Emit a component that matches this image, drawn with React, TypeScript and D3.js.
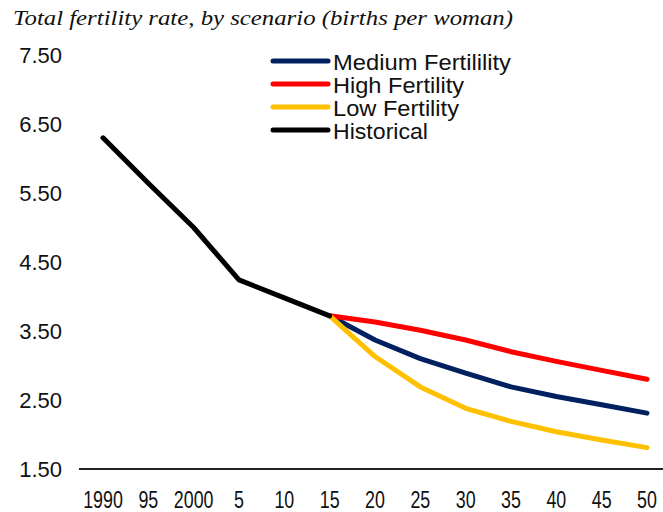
import React from "react";
import * as d3 from "d3";

const categories = ["1990", "95", "2000", "5", "10", "15", "20", "25", "30", "35", "40", "45", "50"];
const historicalCats = ["1990", "95", "2000", "5", "10", "15"];
const historicalValues = [6.3, 5.64, 5.0, 4.24, 3.98, 3.72];
const projectionCats = ["15", "20", "25", "30", "35", "40", "45", "50"];
const mediumValues = [3.72, 3.37, 3.1, 2.89, 2.69, 2.55, 2.43, 2.31];
const highValues = [3.72, 3.63, 3.51, 3.37, 3.2, 3.06, 2.93, 2.8];
const lowValues = [3.72, 3.13, 2.69, 2.38, 2.19, 2.04, 1.92, 1.81];
const yTicks = [1.5, 2.5, 3.5, 4.5, 5.5, 6.5, 7.5];
const title = "Total fertility rate, by scenario (births per woman)";

const seriesDefs = [
  { name: "Medium Fertilility", cats: projectionCats, values: mediumValues, color: "#002060", textW: 178 },
  { name: "High Fertility", cats: projectionCats, values: highValues, color: "#FF0000", textW: 131 },
  { name: "Low Fertility", cats: projectionCats, values: lowValues, color: "#FFC000", textW: 126 },
  { name: "Historical", cats: historicalCats, values: historicalValues, color: "#000000", textW: 95 },
];

export default function App() {
  const W = 663;
  const H = 512;
  const x = d3.scalePoint<string>().domain(categories).range([103, 647]);
  const y = d3.scaleLinear().domain([1.5, 7.5]).range([469, 55]);
  const line = d3
    .line<[string, number]>()
    .x((d) => x(d[0]) as number)
    .y((d) => y(d[1]));

  return (
    <svg
      width={W}
      height={H}
      style={{ position: "absolute", left: 0, top: 0, background: "#fff" }}
    >
      <rect x={0} y={0} width={W} height={H} fill="#fff" />
      <text
        x={13}
        y={25}
        fontFamily="'Liberation Serif', serif"
        fontStyle="italic"
        fontSize={22}
        textLength={500}
        lengthAdjust="spacingAndGlyphs"
        fill="#111"
      >
        {title}
      </text>

      {yTicks.map((t) => (
        <text
          key={t}
          x={62}
          y={y(t) + 8}
          textAnchor="end"
          fontFamily="'Liberation Sans', Arial, sans-serif"
          fontSize={22}
          fill="#111"
        >
          {t.toFixed(2)}
        </text>
      ))}

      <line x1={79} x2={663} y1={469} y2={469} stroke="#222" strokeWidth={2} />

      {categories.map((c) => (
        <text
          key={c}
          transform={`translate(${x(c)},508) scale(0.76,1)`}
          textAnchor="middle"
          fontFamily="'Liberation Sans', Arial, sans-serif"
          fontSize={23.5}
          fill="#111"
        >
          {c}
        </text>
      ))}

      {seriesDefs.map((s) => (
        <path
          key={s.name}
          d={line(s.cats.map((c, i) => [c, s.values[i]] as [string, number])) || ""}
          fill="none"
          stroke={s.color}
          strokeWidth={5}
          strokeLinecap="round"
          strokeLinejoin="round"
        />
      ))}

      {seriesDefs.map((s, i) => {
        const ly = 61 + i * 23;
        return (
          <g key={s.name}>
            <line x1={273} x2={328} y1={ly} y2={ly} stroke={s.color} strokeWidth={5} strokeLinecap="round" />
            <text
              x={333}
              y={ly + 8.5}
              fontFamily="'Liberation Sans', Arial, sans-serif"
              fontSize={21.5}
              textLength={s.textW}
              lengthAdjust="spacingAndGlyphs"
              fill="#111"
            >
              {s.name}
            </text>
          </g>
        );
      })}
    </svg>
  );
}
